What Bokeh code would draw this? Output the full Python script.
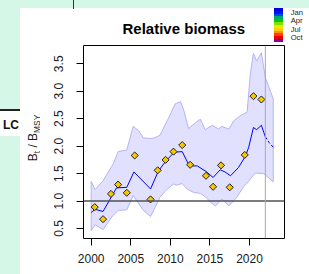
import numpy as np
from bokeh.plotting import figure
from bokeh.models import Span, FixedTicker, Div, Range1d
from bokeh.layouts import row, column
from bokeh.embed import file_html
from bokeh.resources import INLINE

# ---------------- data ----------------
med_years = [2000.0, 2000.5, 2001.5, 2003.2, 2004.5, 2005.4, 2007.5, 2008.5, 2009.5,
             2010.5, 2011.5, 2012.4, 2013.4, 2014.5, 2015.4, 2016.3, 2016.9, 2017.6,
             2018.6, 2019.5, 2019.9, 2020.5, 2020.9, 2021.5, 2022.0]
med_vals = [0.79, 0.85, 0.81, 1.24, 1.25, 1.53, 1.22, 1.55, 1.74,
            1.89, 1.90, 1.64, 1.64, 1.54, 1.43, 1.57, 1.53, 1.46,
            1.61, 1.82, 1.98, 2.34, 2.30, 2.38, 2.17]

proj_years = [2022.0, 2022.5, 2023.0]
proj_vals = [2.17, 2.06, 1.98]

up_years = [2000.0, 2000.5, 2001.5, 2002.8, 2003.4, 2004.5, 2005.3, 2006.0, 2006.6,
            2007.4, 2008.0, 2008.7, 2009.8, 2010.6, 2011.3, 2011.7, 2012.3, 2013.2,
            2013.8, 2014.4, 2015.3, 2016.1, 2016.5, 2017.4, 2018.0, 2018.8, 2019.7,
            2020.1, 2020.5, 2020.9, 2021.5, 2022.0, 2023.0]
up_vals = [1.36, 1.21, 1.37, 1.68, 1.90, 1.93, 2.36, 2.28, 2.15,
           2.14, 2.15, 2.20, 2.52, 2.77, 2.81, 2.65, 2.32, 2.43,
           2.49, 2.30, 2.38, 2.31, 2.36, 2.31, 2.46, 2.55, 2.62,
           3.31, 3.69, 3.55, 3.70, 3.25, 2.86]

lo_years = [2000.0, 2000.5, 2001.5, 2002.6, 2003.4, 2004.5, 2005.3, 2006.6, 2007.5,
            2008.1, 2008.7, 2009.4, 2010.4, 2010.8, 2011.5, 2012.1, 2012.9, 2013.8,
            2014.4, 2015.3, 2015.7, 2016.5, 2017.4, 2018.4, 2019.2, 2019.9, 2020.7,
            2021.8, 2023.0]
lo_vals = [0.46, 0.57, 0.48, 0.71, 0.83, 0.84, 1.10, 0.83, 0.72,
           0.89, 1.07, 1.19, 1.31, 1.29, 1.32, 1.22, 1.16, 1.14,
           1.08, 0.95, 0.91, 1.04, 0.91, 1.07, 1.25, 1.36, 1.51,
           1.50, 1.35]

obs_years = [2000.45, 2001.5, 2002.5, 2003.4, 2004.5, 2005.5, 2007.5, 2008.4, 2009.4,
             2010.4, 2011.5, 2012.5, 2014.5, 2015.4, 2016.4, 2017.5, 2019.4, 2020.5, 2021.5]
obs_vals = [0.89, 0.67, 1.13, 1.30, 1.15, 1.83, 1.03, 1.56, 1.75,
            1.90, 2.02, 1.66, 1.46, 1.26, 1.65, 1.25, 1.84, 2.91, 2.85]

ref_level = 1.0
last_data_year = 2022

x_ticks = [2000, 2005, 2010, 2015, 2020]
y_ticks = [0.5, 1.0, 1.5, 2.0, 2.5, 3.0, 3.5]
y_tick_labels = ["0.5", "1.0", "1.5", "2.0", "2.5", "3.0", "3.5"]

title_text = "Relative biomass"
month_labels = ["Jan", "Apr", "Jul", "Oct"]
month_colors = ["#0000d8", "#0010ff", "#0048f0", "#00a870", "#00cc00", "#80e000",
                "#e0f000", "#ffd000", "#ff9000", "#ff4000", "#ee0000", "#8000a0"]

FONT = "Liberation Sans"
FONT_CSS = "'Liberation Sans', Arial, sans-serif"
MINT = "#d4f7e8"

# ---------------- figure ----------------
p = figure(width=269, height=230, output_backend="svg", toolbar_location=None,
           x_range=Range1d(1999.03, 2024.42), y_range=Range1d(0.318, 3.833),
           min_border_left=43, min_border_right=25, min_border_top=1,
           min_border_bottom=36, background_fill_color="white",
           border_fill_color="white")
p.title.visible = False
p.grid.visible = False
p.outline_line_color = "black"
p.outline_line_width = 1
p.outline_line_alpha = 1

# uncertainty band
band_x = list(up_years) + list(reversed(lo_years))
band_y = list(up_vals) + list(reversed(lo_vals))
p.patch(band_x, band_y, fill_color="#e1e1ff", line_color="#b4b4f6", line_width=1)

p.add_layout(Span(location=ref_level, dimension="width", line_color="#505050",
                  line_width=1.5))
p.add_layout(Span(location=last_data_year, dimension="height", line_color="#a8a8a8",
                  line_width=1))

p.line(med_years, med_vals, line_color="#0000ff", line_width=1)
p.line(proj_years, proj_vals, line_color="#0000ff", line_width=1, line_dash="3 2")

p.scatter(obs_years, obs_vals, marker="square", angle=np.pi / 4, size=5,
          fill_color="#f5c800", line_color="#202020", line_width=1)

# axes
for ax in (p.xaxis[0], p.yaxis[0]):
    ax.axis_line_color = None
    ax.major_tick_line_color = "black"
    ax.major_tick_out = 7
    ax.major_tick_in = 0
    ax.minor_tick_line_color = None
    ax.major_label_text_font = FONT
    ax.major_label_text_font_size = "12px"
    ax.major_label_text_color = "#1a1a1a"

p.xaxis.ticker = FixedTicker(ticks=x_ticks)
p.xaxis.major_label_standoff = 8
p.yaxis.ticker = FixedTicker(ticks=y_ticks)
p.yaxis.major_label_overrides = {t: l for t, l in zip(y_ticks, y_tick_labels)}
p.yaxis.major_label_orientation = "vertical"
p.yaxis.major_label_standoff = 13

# ---------------- top strip: title + month colour key ----------------
n = len(month_colors)
stops = ", ".join(f"{c} {i * 100 / n:.3f}% {(i + 1) * 100 / n:.3f}%"
                  for i, c in enumerate(month_colors))
month_centers = [12.3, 20.8, 29.3, 37.8]
month_html = "".join(
    f'<div style="position:absolute;left:290.7px;top:{cy - 3.8:.2f}px;font-size:7.6px;'
    f'line-height:8px;color:#222;white-space:nowrap">{m}</div>'
    for m, cy in zip(month_labels, month_centers))

top_html = (
    f'<div style="position:relative;width:309px;height:44px;background:#fff;overflow:hidden;'
    f'font-family:{FONT_CSS}">'
    f'<div style="position:absolute;left:0;top:0;width:309px;height:8px;background:{MINT}"></div>'
    f'<div style="position:absolute;left:0;top:8px;width:20px;height:36px;background:{MINT}"></div>'
    f'<div style="position:absolute;left:72.7px;top:0;width:1.4px;height:9px;background:#333"></div>'
    f'<div style="position:absolute;left:183.8px;top:20.6px;transform:translateX(-50%);'
    f'white-space:nowrap;font-weight:bold;font-size:15px;line-height:15px;color:#000">{title_text}</div>'
    f'<div style="position:absolute;left:274px;top:8.3px;width:9px;height:33.4px;'
    f'background:linear-gradient(to bottom, {stops})"></div>'
    f'{month_html}'
    f'</div>')
top_div = Div(width=309, height=44, margin=0, text=top_html)

# ---------------- left strip: y-axis label ----------------
sub = 'style="font-size:8.4px;position:relative;top:3px"'
ylab_html = f'B<span {sub}>t</span> / B<span {sub}>MSY</span>'
left_html = (
    f'<div style="position:relative;width:40px;height:230px;background:#fff;overflow:hidden;'
    f'font-family:{FONT_CSS}">'
    f'<div style="position:absolute;left:0;top:0;width:20px;height:230px;background:{MINT}"></div>'
    f'<div style="position:absolute;left:0;top:65px;width:20px;height:1.5px;background:#222"></div>'
    f'<div style="position:absolute;left:0;top:66.5px;width:20px;height:25.5px;background:#fff"></div>'
    f'<div style="position:absolute;left:3px;top:75px;font-weight:bold;font-size:12px;'
    f'line-height:12px;color:#111;white-space:nowrap">LC</div>'
    f'<div style="position:absolute;left:32.8px;top:94px;transform:translate(-50%,-50%) rotate(-90deg);'
    f'white-space:nowrap;font-size:12px;line-height:14px;color:#1a1a1a">{ylab_html}</div>'
    f'</div>')
left_div = Div(width=40, height=230, margin=0, text=left_html)

layout = column(top_div, row(left_div, p, spacing=0), spacing=0)
open("out.html", "w").write(file_html(layout, INLINE))
